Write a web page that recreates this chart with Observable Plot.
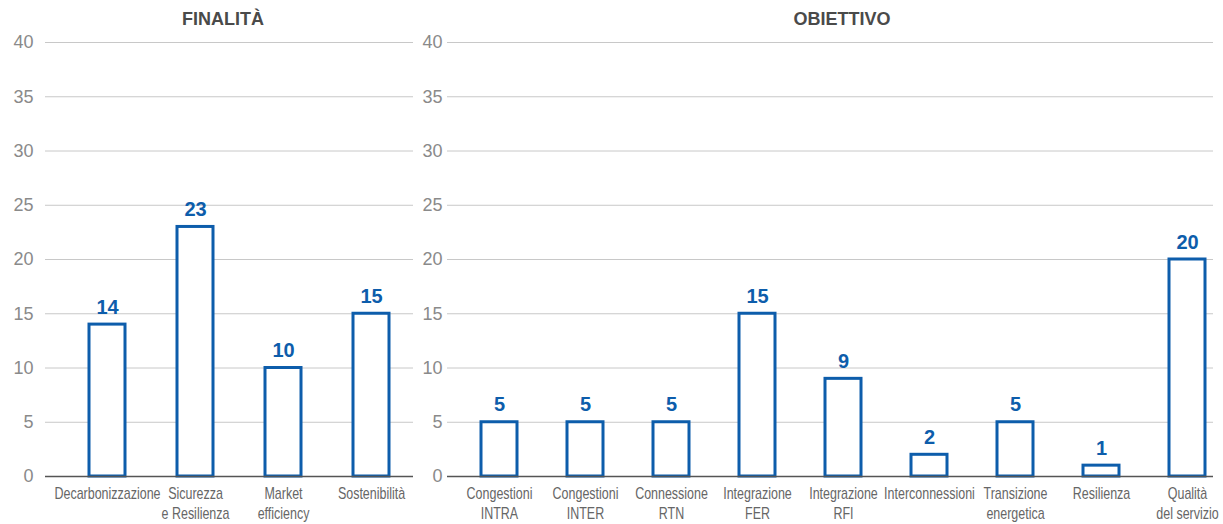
<!DOCTYPE html>
<html>
<head>
<meta charset="utf-8">
<script src="https://cdn.jsdelivr.net/npm/d3@7"></script>
<script src="https://cdn.jsdelivr.net/npm/@observablehq/plot@0.6"></script>
<style>
  html, body { margin: 0; padding: 0; background: #fff; }
  #wrap { display: flex; width: 1223px; height: 524px; }
  .panel { flex: none; }
  .title { height: 32px; line-height: 39px; text-align: center; font-family: "Liberation Sans", Arial, sans-serif; font-weight: bold; font-size: 18px; color: #4a4a4a; box-sizing: border-box; }
  svg { display: block; }
</style>
</head>
<body>
<div id="wrap">
  <div class="panel" id="left" style="width:415px"><div class="title" style="padding-left:31px">FINALITÀ</div></div>
  <div class="panel" id="right" style="width:808px"><div class="title" style="padding-left:46px">OBIETTIVO</div></div>
</div>
<script>
const finalitaCategories = ["Decarbonizzazione", "Sicurezza\ne Resilienza", "Market\nefficiency", "Sostenibilità"];
const finalitaValues = [14, 23, 10, 15];

const obiettivoCategories = ["Congestioni\nINTRA", "Congestioni\nINTER", "Connessione\nRTN", "Integrazione\nFER", "Integrazione\nRFI", "Interconnessioni", "Transizione\nenergetica", "Resilienza", "Qualità\ndel servizio"];
const obiettivoValues = [5, 5, 5, 15, 9, 2, 5, 1, 20];

const yTicks = [0, 5, 10, 15, 20, 25, 30, 35, 40];

const BLUE = "#0d5dab";

function condense(svg, k) {
  svg.querySelectorAll('g[aria-label="x-axis tick label"] text').forEach(t => {
    const tr = t.getAttribute("transform");
    if (tr) {
      t.setAttribute("transform", tr + ` scale(${k},1)`);
    } else {
      const x = +(t.getAttribute("x") || 0), y = +(t.getAttribute("y") || 0);
      t.removeAttribute("x"); t.removeAttribute("y");
      t.setAttribute("transform", `translate(${x},${y}) scale(${k},1)`);
    }
  });
  return svg;
}

function panel(categories, values, opts) {
  const data = categories.map((c, i) => ({cat: c, value: values[i]}));
  const svg = Plot.plot({
    width: opts.width,
    height: 492,
    marginTop: 10,
    marginBottom: 48,
    marginLeft: opts.marginLeft,
    marginRight: opts.marginRight,
    style: {background: "#fff"},
    x: {domain: categories, range: opts.xRange, paddingInner: opts.pi, paddingOuter: opts.pi / 2, align: 0.5},
    y: {domain: [0, 40]},
    marks: [
      Plot.ruleY(yTicks.filter(d => d > 0), {stroke: "#c8c8c8", strokeWidth: 1}),
      Plot.axisY({ticks: yTicks, tickSize: 0, tickPadding: opts.yPad, fontSize: 18, fill: "#8a8a8a",
        fontFamily: "'Liberation Sans', Arial, sans-serif", label: null}),
      Plot.axisX({tickSize: 0, tickPadding: 8, fontSize: 16, lineHeight: 1.25, fill: "#666",
        fontFamily: "'Liberation Sans', Arial, sans-serif", label: null}),
      Plot.barY(data, {x: "cat", y: "value", fill: "white", stroke: BLUE, strokeWidth: 3}),
      Plot.ruleY([0], {stroke: "#555", strokeWidth: 1.5}),
      Plot.text(data, {x: "cat", y: "value", text: d => String(d.value), dy: -11, lineAnchor: "bottom",
        fill: BLUE, fontWeight: "bold", fontSize: 20, fontFamily: "'Liberation Sans', Arial, sans-serif"})
    ]
  });
  return condense(svg, 0.78);
}

document.getElementById("left").appendChild(panel(finalitaCategories, finalitaValues, {
  width: 415, marginLeft: 45, marginRight: 2, yPad: 12, xRange: [62.75, 414.75], pi: 0.59
}));
document.getElementById("right").appendChild(panel(obiettivoCategories, obiettivoValues, {
  width: 808, marginLeft: 32, marginRight: 10, yPad: 5, xRange: [37.6, 818.4], pi: 0.585
}));
</script>
</body>
</html>
